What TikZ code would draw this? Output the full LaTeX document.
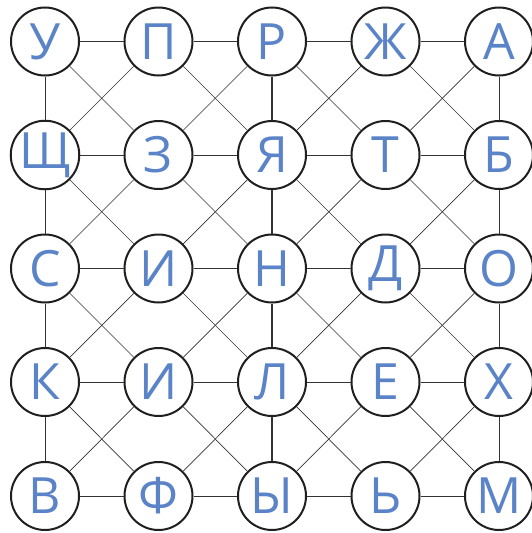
\documentclass[tikz,border=0pt]{standalone}
\usepackage{fontspec}
\setmainfont{Open Sans}
\definecolor{letterblue}{HTML}{5B84C8}
\definecolor{edgegray}{HTML}{333333}
\begin{document}
\begin{tikzpicture}[x=1pt,y=-1pt,
  letter/.style={circle,draw=black!88,line width=2pt,minimum size=68pt,inner sep=0pt,fill=white,
    text=letterblue,font=\fontsize{50}{50}\selectfont},
  edge/.style={draw=edgegray,line width=0.9pt},
  thickedge/.style={draw=edgegray,line width=1.6pt},
  diag/.style={draw=edgegray,line width=0.7pt}]
\useasboundingbox (0,0) rectangle (532,533);
% nodes
\node[letter] (n11) at (45,41.5) {У};
\node[letter] (n12) at (158.5,41.5) {П};
\node[letter] (n13) at (272,41.5) {Р};
\node[letter] (n14) at (385.5,41.5) {Ж};
\node[letter] (n15) at (499,41.5) {А};
\node[letter] (n21) at (45,155) {Щ};
\node[letter] (n22) at (158.5,155) {З};
\node[letter] (n23) at (272,155) {Я};
\node[letter] (n24) at (385.5,155) {Т};
\node[letter] (n25) at (499,155) {Б};
\node[letter] (n31) at (45,268.5) {С};
\node[letter] (n32) at (158.5,268.5) {И};
\node[letter] (n33) at (272,268.5) {Н};
\node[letter] (n34) at (385.5,268.5) {Д};
\node[letter] (n35) at (499,268.5) {О};
\node[letter] (n41) at (45,382) {К};
\node[letter] (n42) at (158.5,382) {И};
\node[letter] (n43) at (272,382) {Л};
\node[letter] (n44) at (385.5,382) {Е};
\node[letter] (n45) at (499,382) {Х};
\node[letter] (n51) at (45,496) {В};
\node[letter] (n52) at (158.5,496) {Ф};
\node[letter] (n53) at (272,496) {Ы};
\node[letter] (n54) at (385.5,496) {Ь};
\node[letter] (n55) at (499,496) {М};
% horizontal edges
\foreach \r in {1,2,3,4,5}
  \foreach \c/\m in {1/2,2/3,3/4,4/5}
    \draw[edge] (n\r\c) -- (n\r\m);
% vertical edges (columns 1, 3, 5)
\foreach \r/\s in {1/2,2/3,3/4,4/5}{
  \draw[edge] (n\r1) -- (n\s1);
  \draw[thickedge] (n\r3) -- (n\s3);
  \draw[edge] (n\r5) -- (n\s5);
}
% diagonals
\foreach \r/\s in {1/2,2/3,3/4,4/5}
  \foreach \c/\m in {1/2,2/3,3/4,4/5}{
    \draw[diag] (n\r\c) -- (n\s\m);
    \draw[diag] (n\r\m) -- (n\s\c);
  }
\end{tikzpicture}
\end{document}
